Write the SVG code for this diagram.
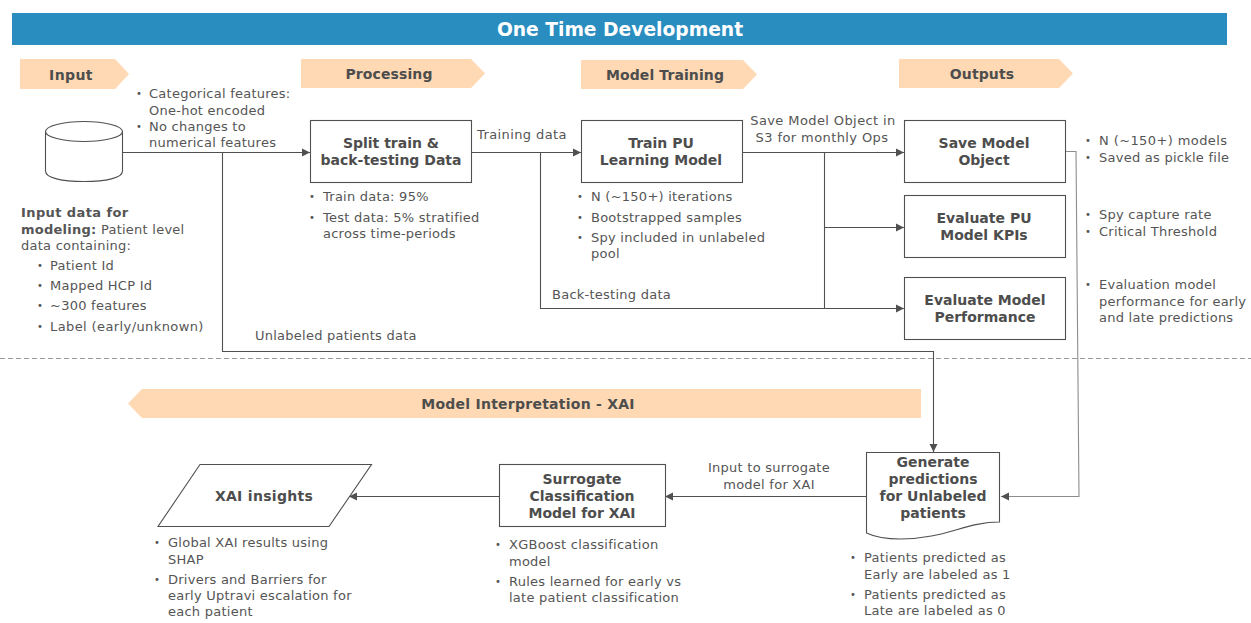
<svg xmlns="http://www.w3.org/2000/svg" width="1251" height="623" viewBox="0 0 1251 623">
<style>
text{font-family:"DejaVu Sans",Verdana,sans-serif;fill:#555}
.t{font-size:13px;letter-spacing:.25px}
.b{font-size:14px;font-weight:700;text-anchor:middle;fill:#4d4d4d}
.h{font-size:14px;font-weight:700;text-anchor:middle;fill:#4d4d4d;letter-spacing:.1px}
.c{text-anchor:middle}
.d{font-size:10px;letter-spacing:0}
.w{letter-spacing:.4px}
.n{fill:#fff;stroke:#505050;stroke-width:1.1}
.p{fill:#fed9b3}
.l{fill:none;stroke:#505050;stroke-width:1.1}
.g{fill:none;stroke:#8c8c8c;stroke-width:1.1}
</style>
<defs>
<marker id="a" markerUnits="userSpaceOnUse" markerWidth="9" markerHeight="9" refX="8" refY="4.500" orient="auto"><path d="M0,0.500L8,4.500L0,8.500Z" fill="#505050"/></marker>
</defs>
<rect x="12" y="13" width="1215" height="32" fill="#2a8dbf"/>
<text x="620" y="36" text-anchor="middle" style="font-size:18.700px;font-weight:700;fill:#fff">One Time Development</text>

<g id="phase-input"><path class="p" d="M20,59H115L129,74L115,89H20Z"/><text class="h" x="71" y="80" style="letter-spacing:.4px">Input</text></g>
<g id="phase-processing"><path class="p" d="M301,59H471L485,73.500L471,88H301Z"/><text class="h" x="389" y="79">Processing</text></g>
<g id="phase-training"><path class="p" d="M581,60H743L757,74.500L743,89H581Z"/><text class="h" x="665" y="80">Model Training</text></g>
<g id="phase-outputs"><path class="p" d="M899,59H1059L1073,73.500L1059,88H899Z"/><text class="h" x="982" y="79">Outputs</text></g>
<g id="phase-xai"><path class="p" d="M128,403.500L142,389H921V418H142Z"/><text class="h" x="528" y="409" style="letter-spacing:.25px">Model Interpretation - XAI</text></g>

<g id="connectors">
<path class="l" marker-end="url(#a)" d="M123,152.500H310"/>
<path class="l" marker-end="url(#a)" d="M222.500,152.500V351.500H933.500V452"/>
<path class="l" marker-end="url(#a)" d="M472,152.500H581"/>
<path class="l" marker-end="url(#a)" d="M540.500,152.500V308.500H904"/>
<path class="l" marker-end="url(#a)" d="M743,152.500H904"/>
<path class="l" d="M824.500,152.500V308.500"/>
<path class="l" marker-end="url(#a)" d="M824.500,227.500H904"/>
<path class="g" marker-end="url(#a)" d="M1064,151.500H1076L1079,496.500H1001"/>
<path class="l" marker-end="url(#a)" d="M866,496.500H665"/>
<path class="l" marker-end="url(#a)" d="M499,496.500H349"/>
<path d="M0,358.500H1251" fill="none" stroke="#999" stroke-width="1" stroke-dasharray="5 3"/>
</g>

<g id="data-store"><path class="n" d="M45.500,131.500V171C45.500,178 62,181.500 84,181.500C106,181.500 122.500,178 122.500,171V131.500"/><ellipse class="n" cx="84" cy="131.500" rx="38.500" ry="10"/></g>
<g id="split"><rect class="n" x="310.500" y="120.500" width="161" height="62"/><text class="b" x="391" y="148">Split train &amp;</text><text class="b" x="391" y="165">back-testing Data</text></g>
<g id="train"><rect class="n" x="581.500" y="120.500" width="161" height="62"/><text class="b" x="661" y="148">Train PU</text><text class="b" x="661" y="165">Learning Model</text></g>
<g id="save"><rect class="n" x="904.500" y="120.500" width="161" height="62"/><text class="b" x="984" y="148">Save Model</text><text class="b" x="984" y="165">Object</text></g>
<g id="kpis"><rect class="n" x="904.500" y="195.500" width="161" height="62"/><text class="b" x="984" y="223">Evaluate PU</text><text class="b" x="984" y="240">Model KPIs</text></g>
<g id="performance"><rect class="n" x="904.500" y="277.500" width="161" height="62"/><text class="b" x="985" y="305">Evaluate Model</text><text class="b" x="985" y="322">Performance</text></g>
<g id="generate"><path class="n" d="M866.500,452.500H999.500V522C965,522 945,539 900,539C885,539 875,537 866.500,533Z"/><text class="b" x="933" y="467">Generate</text><text class="b" x="933" y="484">predictions</text><text class="b" x="933" y="501">for Unlabeled</text><text class="b" x="933" y="518">patients</text></g>
<g id="surrogate"><rect class="n" x="499.500" y="464.500" width="166" height="62"/><text class="b" x="582" y="484">Surrogate</text><text class="b" x="582" y="501">Classification</text><text class="b" x="582" y="518">Model for XAI</text></g>
<g id="insights"><path class="n" d="M200,464.500H371.500L329,526.500H158Z"/><text class="b" x="264" y="501" style="letter-spacing:.3px">XAI insights</text></g>

<g id="labels" class="t">
<text class="d" x="136" y="97">•</text><text x="149" y="98">Categorical features:</text><text x="149" y="115">One-hot encoded</text>
<text class="d" x="136" y="130">•</text><text x="149" y="131">No changes to</text><text x="149" y="147">numerical features</text>
<text x="21" y="217" font-weight="700" style="letter-spacing:.4px">Input data for</text>
<text x="21" y="234"><tspan font-weight="700" style="letter-spacing:.25px">modeling:</tspan> Patient level</text>
<text x="21" y="250">data containing:</text>
<text class="d" x="37" y="269">•</text><text x="50" y="270">Patient Id</text>
<text class="d" x="37" y="289">•</text><text x="50" y="290">Mapped HCP Id</text>
<text class="d" x="37" y="309">•</text><text x="50" y="310">~300 features</text>
<text class="d" x="37" y="330">•</text><text class="w" x="50" y="331">Label (early/unknown)</text>
<text x="255" y="340">Unlabeled patients data</text>
<text class="w" x="477" y="139">Training data</text>
<text class="d" x="309" y="200">•</text><text x="323" y="201">Train data: 95%</text>
<text class="d" x="309" y="221">•</text><text x="323" y="222">Test data: 5% stratified</text><text x="323" y="238">across time-periods</text>
<text class="d" x="577" y="200">•</text><text x="591" y="201">N (~150+) iterations</text>
<text class="d" x="577" y="221">•</text><text x="591" y="222">Bootstrapped samples</text>
<text class="d" x="577" y="241">•</text><text x="591" y="242">Spy included in unlabeled</text><text x="591" y="258">pool</text>
<text x="552" y="299">Back-testing data</text>
<text class="c w" x="823" y="125">Save Model Object in</text><text class="c w" x="822" y="142">S3 for monthly Ops</text>
<text class="d" x="1085" y="144">•</text><text class="w" x="1099" y="145">N (~150+) models</text>
<text class="d" x="1085" y="161">•</text><text x="1099" y="162">Saved as pickle file</text>
<text class="d" x="1085" y="218">•</text><text x="1099" y="219">Spy capture rate</text>
<text class="d" x="1085" y="235">•</text><text x="1099" y="236">Critical Threshold</text>
<text class="d" x="1085" y="288">•</text><text x="1099" y="289">Evaluation model</text><text x="1099" y="306">performance for early</text><text x="1099" y="322">and late predictions</text>
<text class="c" x="769" y="472">Input to surrogate</text><text class="c" x="769" y="489">model for XAI</text>
<text class="d" x="850" y="561">•</text><text x="864" y="562">Patients predicted as</text><text x="864" y="579">Early are labeled as 1</text>
<text class="d" x="850" y="598">•</text><text x="864" y="599">Patients predicted as</text><text x="864" y="615">Late are labeled as 0</text>
<text class="d" x="495" y="548">•</text><text x="509" y="549">XGBoost classification</text><text x="509" y="566">model</text>
<text class="d" x="495" y="585">•</text><text x="509" y="586">Rules learned for early vs</text><text x="509" y="602">late patient classification</text>
<text class="d" x="154" y="546">•</text><text x="168" y="547">Global XAI results using</text><text x="168" y="564">SHAP</text>
<text class="d" x="154" y="583">•</text><text x="168" y="584">Drivers and Barriers for</text><text x="168" y="600">early Uptravi escalation for</text><text x="168" y="616">each patient</text>
</g>
</svg>
